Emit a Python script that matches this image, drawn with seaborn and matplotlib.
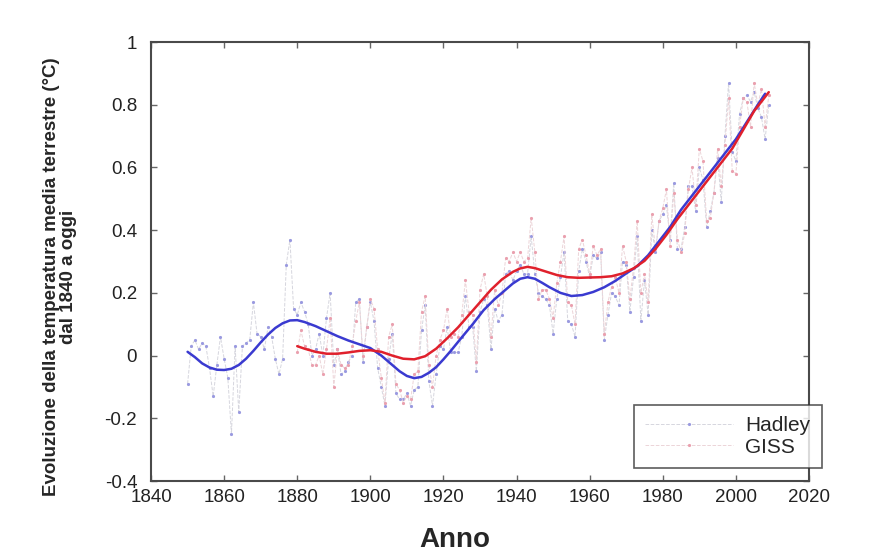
import numpy as np
import pandas as pd
import seaborn as sns
import matplotlib.pyplot as plt

# annual values (degrees C)
hadley_years = list(range(1850, 2010))
hadley_vals = [
    -0.09, 0.03, 0.05, 0.02, 0.04, 0.03, -0.04, -0.13, -0.03, 0.06,
    -0.01, -0.07, -0.25, 0.03, -0.18, 0.03, 0.04, 0.05, 0.17, 0.07,
    0.06, 0.02, 0.09, 0.06, -0.01, -0.06, -0.01, 0.29, 0.37, 0.15,
    0.13, 0.17, 0.14, 0.10, 0.00, 0.02, 0.07, 0.00, 0.12, 0.20,
    -0.03, 0.02, -0.06, -0.05, -0.02, 0.00, 0.17, 0.18, -0.02, 0.09,
    0.17, 0.11, -0.04, -0.10, -0.16, -0.01, 0.07, -0.12, -0.14, -0.14,
    -0.12, -0.16, -0.11, -0.10, 0.08, 0.16, -0.08, -0.16, -0.06, 0.03,
    0.02, 0.09, 0.01, 0.01, 0.01, 0.06, 0.19, 0.09, 0.09, -0.05,
    0.14, 0.18, 0.16, 0.02, 0.15, 0.11, 0.13, 0.26, 0.27, 0.24,
    0.27, 0.29, 0.26, 0.26, 0.38, 0.26, 0.20, 0.19, 0.18, 0.16,
    0.07, 0.18, 0.25, 0.33, 0.11, 0.10, 0.06, 0.27, 0.34, 0.30,
    0.25, 0.32, 0.31, 0.33, 0.05, 0.13, 0.20, 0.19, 0.16, 0.30,
    0.29, 0.14, 0.25, 0.38, 0.11, 0.24, 0.13, 0.40, 0.33, 0.43,
    0.45, 0.48, 0.37, 0.55, 0.34, 0.34, 0.41, 0.54, 0.54, 0.46,
    0.60, 0.56, 0.41, 0.46, 0.52, 0.63, 0.49, 0.70, 0.87, 0.65,
    0.62, 0.77, 0.82, 0.83, 0.81, 0.84, 0.79, 0.76, 0.69, 0.80,
]

giss_years = list(range(1880, 2010))
giss_vals = [
    0.01, 0.08, 0.03, 0.02, -0.03, -0.03, 0.00, -0.06, 0.02, 0.12,
    -0.10, 0.02, -0.03, -0.04, -0.03, 0.03, 0.11, 0.17, 0.00, 0.09,
    0.18, 0.15, 0.02, -0.07, -0.15, 0.06, 0.10, -0.09, -0.11, -0.15,
    -0.13, -0.14, -0.06, -0.05, 0.14, 0.19, -0.03, -0.10, 0.00, 0.05,
    0.08, 0.15, 0.06, 0.07, 0.06, 0.13, 0.24, 0.14, 0.13, -0.02,
    0.21, 0.26, 0.19, 0.06, 0.21, 0.16, 0.20, 0.31, 0.30, 0.33,
    0.30, 0.33, 0.30, 0.31, 0.44, 0.33, 0.18, 0.21, 0.21, 0.18,
    0.12, 0.23, 0.30, 0.38, 0.17, 0.16, 0.10, 0.34, 0.37, 0.32,
    0.26, 0.35, 0.32, 0.34, 0.07, 0.17, 0.22, 0.25, 0.20, 0.35,
    0.30, 0.18, 0.28, 0.43, 0.20, 0.26, 0.17, 0.45, 0.34, 0.43,
    0.47, 0.53, 0.35, 0.52, 0.37, 0.33, 0.39, 0.53, 0.60, 0.48,
    0.66, 0.62, 0.43, 0.44, 0.52, 0.66, 0.54, 0.67, 0.82, 0.59,
    0.58, 0.73, 0.82, 0.81, 0.73, 0.87, 0.80, 0.85, 0.73, 0.83,
]

# smoothed trend curves
hadley_trend_years = [1850, 1852, 1854, 1856, 1858, 1860, 1862, 1864, 1866, 1868,
                      1870, 1872, 1874, 1876, 1878, 1880, 1882, 1885, 1888, 1891,
                      1894, 1897, 1900, 1903, 1906, 1908, 1910, 1912, 1914, 1916,
                      1918, 1920, 1922, 1925, 1928, 1931, 1934, 1937, 1939, 1941,
                      1943, 1945, 1947, 1949, 1952, 1955, 1958, 1961, 1964, 1967,
                      1970, 1973, 1976, 1979, 1982, 1985, 1988, 1991, 1994, 1997,
                      2000, 2003, 2006, 2008]
hadley_trend = [0.012, -0.005, -0.025, -0.038, -0.045, -0.046, -0.042, -0.03, -0.01, 0.015,
                0.042, 0.067, 0.088, 0.103, 0.112, 0.113, 0.107, 0.094, 0.078, 0.062,
                0.048, 0.036, 0.024, 0.0, -0.03, -0.05, -0.065, -0.072, -0.068, -0.055,
                -0.037, -0.012, 0.015, 0.058, 0.10, 0.145, 0.18, 0.21, 0.23, 0.245,
                0.25, 0.245, 0.232, 0.218, 0.2, 0.19, 0.193, 0.203, 0.218, 0.238,
                0.262, 0.285, 0.32, 0.365, 0.41, 0.465, 0.51, 0.555, 0.60, 0.645,
                0.69, 0.745, 0.80, 0.835]

giss_trend_years = [1880, 1882, 1885, 1888, 1891, 1894, 1897, 1900, 1903, 1906,
                    1909, 1912, 1915, 1918, 1921, 1924, 1927, 1930, 1933, 1936,
                    1939, 1941, 1943, 1945, 1948, 1951, 1954, 1957, 1960, 1963,
                    1966, 1969, 1972, 1975, 1978, 1981, 1984, 1987, 1990, 1993,
                    1996, 1999, 2002, 2005, 2009]
giss_trend = [0.03, 0.022, 0.012, 0.006, 0.006, 0.01, 0.015, 0.017, 0.012, 0.0,
              -0.01, -0.012, -0.002, 0.022, 0.055, 0.09, 0.13, 0.17, 0.21, 0.243,
              0.267, 0.278, 0.283, 0.279, 0.268, 0.257, 0.25, 0.248, 0.249, 0.25,
              0.253, 0.262, 0.278, 0.302, 0.34, 0.385, 0.435, 0.48, 0.525, 0.57,
              0.615, 0.66, 0.72, 0.78, 0.84]

sns.set_style("ticks")
plt.rcParams["font.family"] = ["Liberation Sans", "DejaVu Sans"]

fig = plt.figure(figsize=(8.71, 5.52), dpi=100)
ax = fig.add_axes([0.1734, 0.1286, 0.7554, 0.7953])

sns.lineplot(x=hadley_years, y=hadley_vals, ax=ax, color="#d6d6de", lw=0.7,
             ls="--", marker=".", ms=3, mfc="#9a9ae0", mec="#9a9ae0", label="Hadley")
sns.lineplot(x=giss_years, y=giss_vals, ax=ax, color="#ecd4d8", lw=0.7,
             ls="--", marker=".", ms=3, mfc="#eaa0ae", mec="#eaa0ae", label="GISS")

sns.lineplot(x=hadley_trend_years, y=hadley_trend, ax=ax, color="#3a3ad0", lw=1.8,
             label="_nolegend_")
sns.lineplot(x=giss_trend_years, y=giss_trend, ax=ax, color="#e0202c", lw=1.8,
             label="_nolegend_")

ax.set_xlim(1840, 2020)
ax.set_ylim(-0.4, 1)
ax.set_xticks(range(1840, 2021, 20))
ax.set_yticks([-0.4, -0.2, 0, 0.2, 0.4, 0.6, 0.8, 1])
ax.set_yticklabels(["-0.4", "-0.2", "0", "0.2", "0.4", "0.6", "0.8", "1"])
ax.tick_params(direction="in", top=True, right=True, length=4, width=1,
               color="#666666", labelsize=13.5, labelcolor="#222222")
ax.tick_params(axis="y", pad=10)
ax.tick_params(axis="x", pad=6)
for s in ax.spines.values():
    s.set_color("#4a4a4a")
    s.set_linewidth(1.5)

ax.set_xlabel("Anno", fontsize=20, fontweight="bold")
ax.xaxis.set_label_coords(0.462, -0.105)
ax.set_ylabel("Evoluzione della temperatura media terrestre (°C)\ndal 1840 a oggi",
              fontsize=13.5, fontweight="bold", linespacing=1.05)
ax.yaxis.set_label_coords(-0.112, 0.465)

leg = ax.legend(loc="lower right", bbox_to_anchor=(822 / 871, 1 - 468 / 552),
                bbox_transform=fig.transFigure, fontsize=15, handlelength=4.2,
                frameon=True, fancybox=False, borderpad=0.55, labelspacing=0.1,
                borderaxespad=0, handletextpad=0.6)
leg.get_frame().set_edgecolor("#333333")
leg.get_frame().set_linewidth(1.2)

fig.savefig("out.png", dpi=100, facecolor="white")
